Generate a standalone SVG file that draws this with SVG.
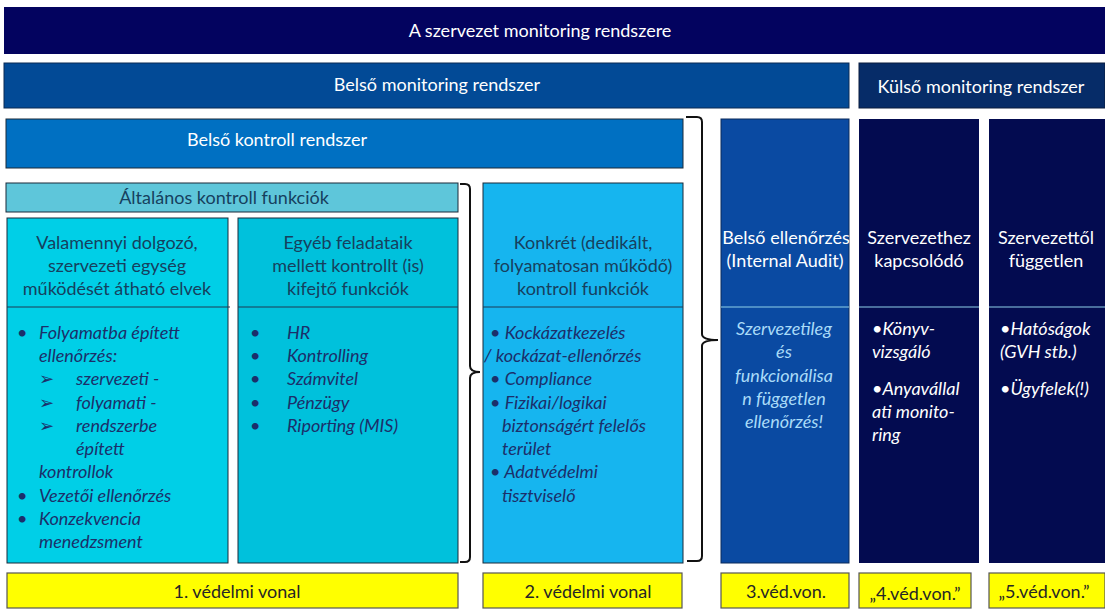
<svg xmlns="http://www.w3.org/2000/svg" width="1105" height="613" viewBox="0 0 1105 613">
<style>
text{font-family:Lato,"Liberation Sans",sans-serif}
.w{fill:#ffffff;font-size:18px}
.h{fill:#16405e;font-size:18px;text-anchor:middle}
.b{fill:#1c2f6a;font-size:18px;font-style:italic}
.y{fill:#262626;font-size:18px;text-anchor:middle}
.box{stroke:#1a2a3a;stroke-width:1}
.yel{fill:#ffff00;stroke:#555555;stroke-width:1.2}
.div{stroke:#1d3a55;stroke-width:1}
.br{fill:none;stroke:#111111;stroke-width:2}
.c{text-anchor:middle}
</style>
<rect width="1105" height="613" fill="#ffffff"/>
<g id="top">
<rect x="4" y="7" width="1101" height="47" fill="#03035f"/>
<text class="w c" x="540" y="37" font-size="19">A szervezet monitoring rendszere</text>
</g>
<g id="belso-monitoring">
<rect x="4" y="63" width="845" height="45" fill="#024a96" stroke="#0b2a55"/>
<text class="w c" x="437" y="91" font-size="19">Belső monitoring rendszer</text>
</g>
<g id="kulso-monitoring">
<rect x="859" y="63" width="246" height="45" fill="#062c68" stroke="#0b1d3f"/>
<text class="w c" x="981" y="93" font-size="19">Külső monitoring rendszer</text>
</g>
<g id="belso-kontroll">
<rect class="box" x="6" y="119" width="677" height="49" fill="#0070c2"/>
<text class="w c" x="277" y="146">Belső kontroll rendszer</text>
</g>
<g id="altalanos">
<rect class="box" x="6" y="183" width="452" height="29" fill="#5ec6da"/>
<text class="h" x="224" y="204" fill="#15334e">Általános kontroll funkciók</text>
</g>
<g id="valamennyi">
<rect class="box" x="7" y="218" width="221" height="345" fill="#00cfe7"/>
<line class="div" x1="7" y1="307" x2="230" y2="307"/>
<text class="h" x="117" y="249">Valamennyi dolgozó,</text>
<text class="h" x="117" y="272">szervezeti egység</text>
<text class="h" x="117" y="295">működését átható elvek</text>
<g class="b">
<text x="17" y="339">•</text><text x="39" y="339">Folyamatba épített</text>
<text x="39" y="362">ellenőrzés:</text>
<text x="39" y="385" font-style="normal">➢</text><text x="76" y="385">szervezeti -</text>
<text x="39" y="409" font-style="normal">➢</text><text x="76" y="409">folyamati -</text>
<text x="39" y="432" font-style="normal">➢</text><text x="76" y="432">rendszerbe</text>
<text x="76" y="455">épített</text>
<text x="39" y="478">kontrollok</text>
<text x="17" y="502">•</text><text x="39" y="502">Vezetői ellenőrzés</text>
<text x="17" y="525">•</text><text x="39" y="525">Konzekvencia</text>
<text x="39" y="548">menedzsment</text>
</g>
</g>
<g id="egyeb">
<rect class="box" x="238" y="218" width="220" height="345" fill="#00c1dc"/>
<line class="div" x1="238" y1="307" x2="458" y2="307"/>
<text class="h" x="348" y="249">Egyéb feladataik</text>
<text class="h" x="348" y="272">mellett kontrollt (is)</text>
<text class="h" x="348" y="295">kifejtő funkciók</text>
<g class="b">
<text x="250" y="339">•</text><text x="287" y="339">HR</text>
<text x="250" y="362">•</text><text x="287" y="362">Kontrolling</text>
<text x="250" y="385">•</text><text x="287" y="385">Számvitel</text>
<text x="250" y="409">•</text><text x="287" y="409">Pénzügy</text>
<text x="250" y="432">•</text><text x="287" y="432">Riporting (MIS)</text>
</g>
</g>
<g id="konkret">
<rect class="box" x="483" y="183" width="200" height="380" fill="#16b5ef"/>
<line class="div" x1="483" y1="307" x2="683" y2="307"/>
<text class="h" x="583" y="249">Konkrét (dedikált,</text>
<text class="h" x="583" y="272">folyamatosan működő)</text>
<text class="h" x="583" y="295">kontroll funkciók</text>
<g class="b" font-size="17.5">
<text x="490" y="339">• Kockázatkezelés</text>
<text x="484" y="362">/ kockázat-ellenőrzés</text>
<text x="490" y="385">• Compliance</text>
<text x="490" y="409">• Fizikai/logikai</text>
<text x="502" y="432">biztonságért felelős</text>
<text x="502" y="455">terület</text>
<text x="490" y="478">• Adatvédelmi</text>
<text x="502" y="502">tisztviselő</text>
</g>
</g>
<g id="belso-ellenorzes">
<rect x="721" y="119" width="128" height="444" fill="#0a4aa2" stroke="#0a2a5a"/>
<line x1="721" y1="307" x2="849" y2="307" stroke="#8fd0e8" stroke-width="1"/>
<text class="w c" x="786" y="244" fill="#b5ddf5">Belső ellenőrzés</text>
<text class="w c" x="785" y="267" fill="#b5ddf5">(Internal Audit)</text>
<g fill="#a9dbf8" font-size="18" font-style="italic" text-anchor="middle">
<text x="784" y="335">Szervezetileg</text>
<text x="784" y="358">és</text>
<text x="784" y="382">funkcionálisa</text>
<text x="784" y="405">n független</text>
<text x="784" y="428">ellenőrzés!</text>
</g>
</g>
<g id="szervezethez">
<rect x="859" y="119" width="120" height="444" fill="#030b50"/>
<line x1="859" y1="307" x2="979" y2="307" stroke="#8fd0e8" stroke-width="1"/>
<text class="w c" x="919" y="244">Szervezethez</text>
<text class="w c" x="919" y="267">kapcsolódó</text>
<g fill="#ffffff" font-size="18" font-style="italic">
<text x="872" y="335">•Könyv-</text>
<text x="872" y="358">vizsgáló</text>
<text x="872" y="395">•Anyavállal</text>
<text x="872" y="418">ati monito-</text>
<text x="872" y="441">ring</text>
</g>
</g>
<g id="szervezettol">
<rect x="989" y="119" width="116" height="444" fill="#030b50"/>
<line x1="989" y1="307" x2="1105" y2="307" stroke="#8fd0e8" stroke-width="1"/>
<text class="w c" x="1046" y="244">Szervezettől</text>
<text class="w c" x="1046" y="267">független</text>
<g fill="#ffffff" font-size="18" font-style="italic">
<text x="1000" y="335">•Hatóságok</text>
<text x="1000" y="358">(GVH stb.)</text>
<text x="1000" y="395">•Ügyfelek(!)</text>
</g>
</g>
<g id="vedelmi-vonalak">
<rect class="yel" x="7" y="573" width="451" height="35"/>
<text class="y" x="237" y="598">1. védelmi vonal</text>
<rect class="yel" x="483" y="573" width="199" height="35"/>
<text class="y" x="588" y="598">2. védelmi vonal</text>
<rect class="yel" x="721" y="573" width="128" height="35"/>
<text class="y" x="786" y="598">3.véd.von.</text>
<rect class="yel" x="859" y="573" width="112" height="35"/>
<text class="y" x="915" y="600">„4.véd.von.”</text>
<rect class="yel" x="989" y="573" width="116" height="35"/>
<text class="y" x="1044" y="598">„5.véd.von.”</text>
</g>
<g id="connectors">
<path class="br" d="M460,184 H465 Q470,184 470,189 V366 Q470,372 480,372 Q470,372 470,378 V557 Q470,562 465,562 H460"/>
<path class="br" d="M686,117 H697 Q702,117 702,122 V334 Q702,340 718,340 Q702,340 702,346 V556 Q702,561 697,561 H687"/>
</g>
</svg>
